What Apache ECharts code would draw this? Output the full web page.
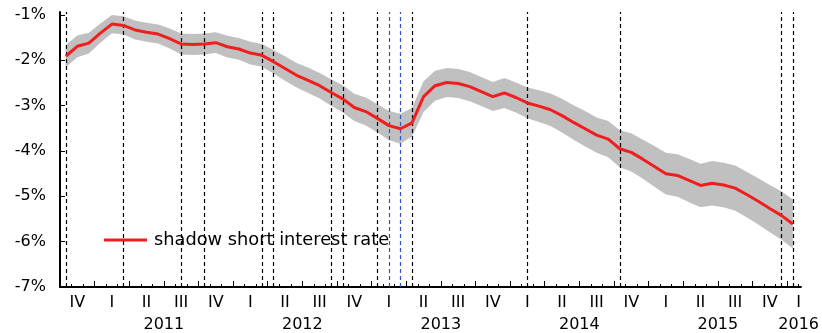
<!DOCTYPE html>
<html>
<head>
<meta charset="utf-8">
<script src="https://cdn.jsdelivr.net/npm/echarts@6/dist/echarts.min.js"></script>
<style>
html,body{margin:0;padding:0;background:#fff;}
#chart{width:822px;height:333px;}
</style>
</head>
<body>
<div id="chart"></div>
<script>
// Monthly observations, Oct 2010 .. Jan 2016 (index 0 = Oct 2010)
var shadowRate = [-1.91,-1.69,-1.62,-1.40,-1.20,-1.23,-1.33,-1.38,-1.42,-1.52,
  -1.64,-1.65,-1.64,-1.61,-1.70,-1.75,-1.84,-1.89,-2.03,-2.18,
  -2.33,-2.44,-2.56,-2.71,-2.85,-3.04,-3.13,-3.28,-3.44,-3.51,
  -3.38,-2.80,-2.56,-2.49,-2.51,-2.58,-2.69,-2.80,-2.72,-2.82,
  -2.94,-3.01,-3.09,-3.22,-3.37,-3.51,-3.65,-3.74,-3.95,-4.03,
  -4.18,-4.34,-4.50,-4.54,-4.65,-4.76,-4.71,-4.75,-4.82,-4.96,
  -5.11,-5.27,-5.42,-5.61];
var bandUpper = [-1.66,-1.45,-1.39,-1.19,-1.00,-1.03,-1.12,-1.17,-1.21,-1.30,
  -1.41,-1.42,-1.41,-1.38,-1.46,-1.51,-1.59,-1.64,-1.77,-1.91,
  -2.06,-2.16,-2.28,-2.42,-2.55,-2.74,-2.82,-2.97,-3.12,-3.18,
  -3.05,-2.46,-2.23,-2.17,-2.19,-2.26,-2.37,-2.48,-2.39,-2.49,
  -2.60,-2.66,-2.73,-2.85,-2.99,-3.12,-3.26,-3.34,-3.54,-3.61,
  -3.75,-3.89,-4.04,-4.07,-4.17,-4.28,-4.22,-4.26,-4.32,-4.46,
  -4.60,-4.75,-4.89,-5.07];
var bandLower = [-2.15,-1.93,-1.85,-1.61,-1.40,-1.43,-1.54,-1.59,-1.63,-1.74,
  -1.87,-1.88,-1.87,-1.84,-1.94,-1.99,-2.09,-2.14,-2.29,-2.45,
  -2.60,-2.72,-2.84,-3.00,-3.15,-3.34,-3.44,-3.59,-3.76,-3.84,
  -3.68,-3.14,-2.89,-2.81,-2.83,-2.90,-3.01,-3.12,-3.05,-3.15,
  -3.28,-3.36,-3.45,-3.59,-3.75,-3.90,-4.04,-4.14,-4.36,-4.45,
  -4.61,-4.79,-4.96,-5.01,-5.13,-5.24,-5.20,-5.24,-5.32,-5.46,
  -5.62,-5.79,-5.95,-6.15];
// event months (index into the monthly series)
var eventMonthsBlack = [0,5,10,12,17,18,23,24,27,30,40,48,62,63];
var eventMonthsBlue = [28,29];
var quarterLabels = ['IV','I','II','III','IV','I','II','III','IV','I','II','III','IV','I','II','III','IV','I','II','III','IV','I'];
var yearLabels = ['2011','2012','2013','2014','2015','2016'];
var yTickValues = [-7,-6,-5,-4,-3,-2,-1];
var seriesName = 'shadow short interest rate';

var X_MAX = 64.2;
function xOf(i){ return i + 0.5; }
var lineData = shadowRate.map(function(v,i){ return [xOf(i), v]; });

var quarterPos = quarterLabels.map(function(l,k){ return k < quarterLabels.length-1 ? 1.5 + 3*k : 64; });
var yearPos = yearLabels.map(function(l,k){ return k < yearLabels.length-1 ? 9 + 12*k : 64; });
var monthTicks = []; for (var m = 0; m <= 64; m++) monthTicks.push(m);
var quarterTicks = []; for (var q = 0; q <= 63; q += 3) quarterTicks.push(q);

function lookup(posArr, labels){
  return function(v){
    for (var k = 0; k < posArr.length; k++) if (Math.abs(posArr[k]-v) < 1e-6) return labels[k];
    return '';
  };
}

var FONT = 'DejaVu Sans';
var markData = [];
eventMonthsBlack.forEach(function(i){ markData.push({xAxis: xOf(i), lineStyle:{color:'#000', width:1.2, type:[4,3]}}); });
eventMonthsBlue.forEach(function(i){ markData.push({xAxis: xOf(i), lineStyle:{color:'#2f4fd0', width:1.2, type:[4,3]}}); });

function renderBand(params, api){
  var pts = [];
  for (var i = 0; i < bandUpper.length; i++) pts.push(api.coord([xOf(i), bandUpper[i]]));
  for (var j = bandLower.length - 1; j >= 0; j--) pts.push(api.coord([xOf(j), bandLower[j]]));
  return {type:'polygon', shape:{points:pts}, style:{fill:'#c0c0c0'}};
}

var chart = echarts.init(document.getElementById('chart'), null, {renderer:'canvas'});
chart.setOption({
  animation:false,
  backgroundColor:'#fff',
  grid:{left:60, right:19, top:12, bottom:43},
  legend:{
    data:[seriesName], left:104, top:231, padding:0, icon:'rect', itemWidth:43, itemHeight:3,
    itemGap:5, selectedMode:false,
    textStyle:{fontFamily:FONT, fontSize:17.8, color:'#000', padding:[0,0,0,2]}
  },
  xAxis:[{
    type:'value', min:0, max:X_MAX, position:'bottom',
    axisLine:{show:true, onZero:false, lineStyle:{color:'#000', width:2}},
    axisTick:{show:true, inside:true, length:3, customValues:monthTicks, lineStyle:{color:'#000', width:1}},
    axisLabel:{show:true, customValues:quarterPos, formatter:lookup(quarterPos, quarterLabels), margin:8,
      fontFamily:FONT, fontSize:16, color:'#000'},
    splitLine:{show:false}
  },{
    type:'value', min:0, max:X_MAX, position:'bottom',
    axisLine:{show:false, onZero:false},
    axisTick:{show:true, inside:true, length:6, customValues:quarterTicks, lineStyle:{color:'#000', width:1}},
    axisLabel:{show:true, customValues:yearPos, formatter:lookup(yearPos, yearLabels), margin:30,
      fontFamily:FONT, fontSize:16, color:'#000'},
    splitLine:{show:false}
  }],
  yAxis:{
    type:'value', min:-7, max:-0.934,
    axisLine:{show:true, onZero:false, lineStyle:{color:'#000', width:2}},
    axisTick:{show:true, inside:true, length:5, customValues:yTickValues, lineStyle:{color:'#000', width:1}},
    axisLabel:{show:true, customValues:yTickValues, formatter:function(v){ return v + '%'; }, margin:14,
      fontFamily:FONT, fontSize:16, color:'#000'},
    splitLine:{show:false}
  },
  series:[{
    name:'band', type:'custom', data:[[xOf(0), bandUpper[0]]], renderItem:renderBand,
    silent:true, z:1, clip:true
  },{
    name:'events', type:'line', data:[], silent:true, z:3,
    markLine:{silent:true, symbol:['none','none'], label:{show:false}, data:markData, animation:false}
  },{
    name:seriesName, type:'line', data:lineData, showSymbol:false, symbol:'none',
    lineStyle:{color:'#f01e1e', width:3}, itemStyle:{color:'#f01e1e'}, z:5
  }]
});
</script>
</body>
</html>
